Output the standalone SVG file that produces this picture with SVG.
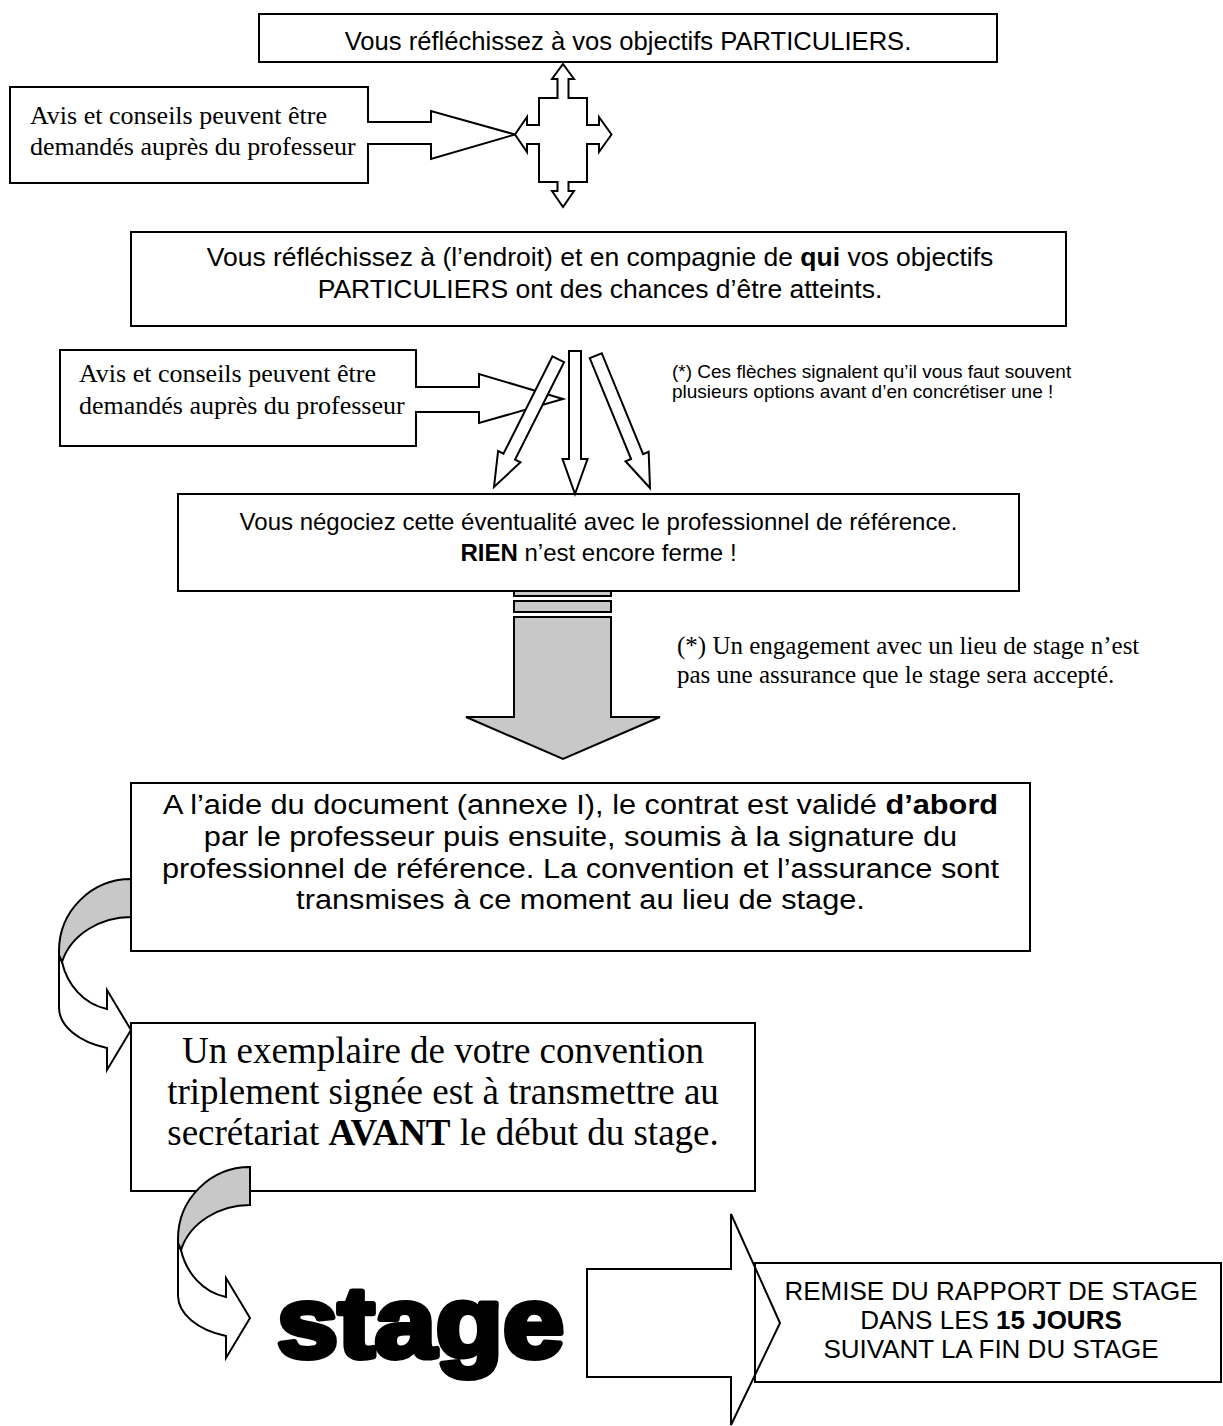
<svg xmlns="http://www.w3.org/2000/svg" width="1223" height="1426" viewBox="0 0 1223 1426">
<style>
.box{fill:#fff;stroke:#000;stroke-width:2}
.ln{fill:#fff;stroke:#000;stroke-width:2;stroke-linejoin:miter}
.open{fill:none;stroke:#000;stroke-width:2}
.gray{fill:#c8c8c8;stroke:#000;stroke-width:2}
.ar{font-family:"Liberation Sans",Arial,sans-serif;font-size:26px;fill:#000}
.tm{font-family:"Liberation Serif","Times New Roman",serif;fill:#000}
.c{text-anchor:middle}
.b{font-weight:bold}
</style>
<defs>
<g id="curved">
<path class="ln" d="M-69,83 C-64,105 -48,125 -24,130 L-24,111 L0,151 L-24,191 L-24,169 A72,43 0 0 1 -72,129 L-72,76 Z"/>
<path class="gray" d="M0,0 A72,72 0 0 0 -72,72 L-72,76 L-69,83 C-60,55 -30,38 0,38 Z"/>
</g>
</defs>
<rect width="1223" height="1426" fill="#fff"/>

<g id="n-objectifs">
<rect class="box" x="259" y="14" width="738" height="48"/>
<text class="ar c" style="font-size:25.6px" x="628" y="50">Vous réfléchissez à vos objectifs PARTICULIERS.</text>
</g>

<g id="n-avis1">
<path class="ln" d="M10,87 H368 V122 H431 V111 L515,134.5 L431,159 V144 H368 V183 H10 Z"/>
<text class="tm" font-size="26" x="30" y="124">Avis et conseils peuvent être</text>
<text class="tm" font-size="26" x="30" y="155">demandés auprès du professeur</text>
</g>

<g id="n-endroit">
<rect class="box" x="131" y="232" width="935" height="94"/>
<text class="ar c" style="font-size:26.5px" x="600" y="266">Vous réfléchissez à (l’endroit) et en compagnie de <tspan class="b">qui</tspan> vos objectifs</text>
<text class="ar c" style="font-size:26.5px" x="600" y="298">PARTICULIERS ont des chances d’être atteints.</text>
</g>

<g id="n-avis2">
<path class="ln" d="M60,350 H416 V387 H479 V374 L563,399 L479,423 V412 H416 V446 H60 Z"/>
<text class="tm" font-size="26" x="79" y="382">Avis et conseils peuvent être</text>
<text class="tm" font-size="26" x="79" y="414">demandés auprès du professeur</text>
</g>

<g id="n-note1">
<text class="ar" style="font-size:19px" x="672" y="378">(*) Ces flèches signalent qu’il vous faut souvent</text>
<text class="ar" style="font-size:19px" x="672" y="398">plusieurs options avant d’en concrétiser une !</text>
</g>

<g id="n-negociez">
<rect class="box" x="178" y="494" width="841" height="97"/>
<text class="ar c" style="font-size:24px" x="598.5" y="530">Vous négociez cette éventualité avec le professionnel de référence.</text>
<text class="ar c" style="font-size:24px" x="598.5" y="561"><tspan class="b">RIEN</tspan> n’est encore ferme !</text>
</g>

<g id="n-note2">
<text class="tm" font-size="25" x="677" y="654">(*) Un engagement avec un lieu de stage n’est</text>
<text class="tm" font-size="25" x="677" y="683">pas une assurance que le stage sera accepté.</text>
</g>

<g id="n-contrat">
<rect class="box" x="131" y="783" width="899" height="168"/>
<g transform="translate(580.5,0) scale(1.13,1)">
<text class="ar c" style="font-size:27.2px" x="0" y="814">A l’aide du document (annexe I), le contrat est validé <tspan class="b">d’abord</tspan></text>
<text class="ar c" style="font-size:27.2px" x="0" y="846">par le professeur puis ensuite, soumis à la signature du</text>
<text class="ar c" style="font-size:27.2px" x="0" y="878">professionnel de référence. La convention et l’assurance sont</text>
<text class="ar c" style="font-size:27.2px" x="0" y="909">transmises à ce moment au lieu de stage.</text>
</g>
</g>

<g id="n-convention">
<rect class="box" x="131" y="1023" width="624" height="168"/>
<text class="tm c" font-size="37" x="443" y="1063">Un exemplaire de votre convention</text>
<text class="tm c" font-size="37" x="443" y="1104">triplement signée est à transmettre au</text>
<text class="tm c" font-size="37" x="443" y="1145">secrétariat <tspan class="b">AVANT</tspan> le début du stage.</text>
</g>

<g id="n-stage">
<text x="277" y="1357" font-family="'Liberation Sans',Arial,sans-serif" font-weight="bold" font-size="100" fill="#000" stroke="#000" stroke-width="6" stroke-linejoin="round" textLength="287" lengthAdjust="spacingAndGlyphs">stage</text>
</g>

<g id="n-remise">
<rect class="box" x="755" y="1263" width="466" height="119"/>
<text class="ar c" x="991" y="1300">REMISE DU RAPPORT DE STAGE</text>
<text class="ar c" x="991" y="1329">DANS LES <tspan class="b">15 JOURS</tspan></text>
<text class="ar c" x="991" y="1358">SUIVANT LA FIN DU STAGE</text>
</g>

<g id="connectors">
<path id="c-fourway" class="ln" d="M563,64 L574,79 L568.5,79 L568.5,98 L587,98 L587,125 L599,125 L599,117 L611.5,134.5 L599,152 L599,144 L587,144 L587,182 L568.5,182 L568.5,191 L574,191 L563,207 L552,191 L557.5,191 L557.5,182 L539,182 L539,144 L527,144 L527,152 L515,134.5 L527,117 L527,125 L539,125 L539,98 L557.5,98 L557.5,79 L552,79 Z"/>
<polygon id="c-opt-left" class="ln" points="-6.5,-143 6.5,-143 6.5,-34 12.5,-34 0,0 -12.5,-34 -6.5,-34" transform="translate(494,487) rotate(26.7)"/>
<polygon id="c-opt-mid" class="ln" points="569,351 581,351 581,459 587.5,459 575,494 562.5,459 569,459"/>
<polygon id="c-opt-right" class="ln" points="-6.5,-143 6.5,-143 6.5,-34 12.5,-34 0,0 -12.5,-34 -6.5,-34" transform="translate(650,488) rotate(-22.3)"/>
<g id="c-down">
<rect class="gray" x="514" y="591" width="97" height="5"/>
<rect class="gray" x="514" y="601" width="97" height="11"/>
<polygon class="gray" points="514,617 611,617 611,717 660,717 563,759 466,717 514,717"/>
</g>
<use id="c-curve1" href="#curved" transform="translate(131,879)"/>
<use id="c-curve2" href="#curved" transform="translate(250,1167)"/>
<path id="c-remise" class="open" d="M587,1269 H731 V1214 L780,1323 L731,1425 V1377 H587 Z"/>
</g>
</svg>
